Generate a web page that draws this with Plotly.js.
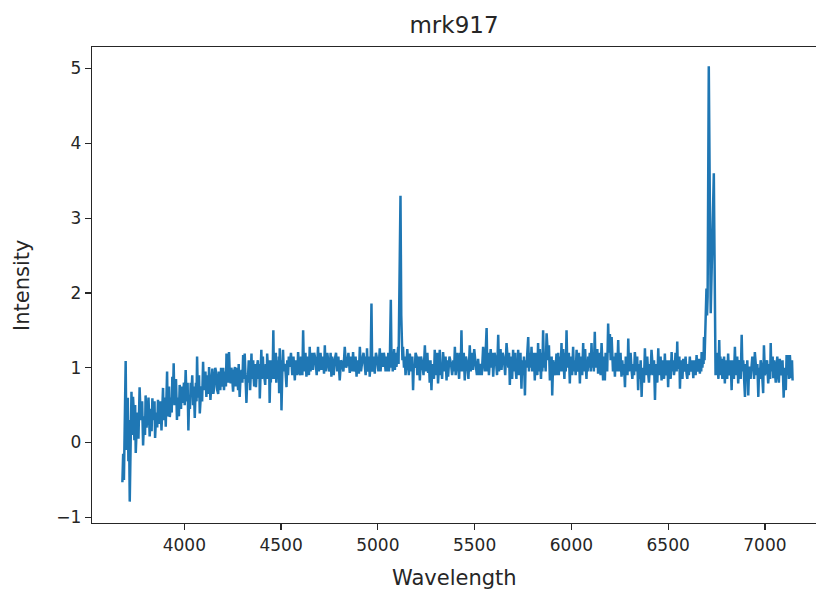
<!DOCTYPE html>
<html>
<head>
<meta charset="utf-8">
<script src="https://cdn.plot.ly/plotly-3.0.1.min.js"></script>
<style>
html,body{margin:0;padding:0;overflow:hidden;background:#fff;}
#chart{width:816px;height:592px;}
</style>
</head>
<body>
<div id="chart"></div>
<script>
const chartTitle = "mrk917";
const xLabel = "Wavelength";
const yLabel = "Intensity";
const xTicks = [4000, 4500, 5000, 5500, 6000, 6500, 7000];
const yTicks = [-1, 0, 1, 2, 3, 4, 5];

const wavelength = [
3680,3684,3688,3692,3697,3701,3704,3708,3711,3714,
3718,3722,3727,3731,3735,3738,3742,3746,3749,3754,
3758,3763,3769,3773,3778,3782,3787,3791,3794,3797,
3800,3805,3810,3815,3821,3824,3828,3831,3835,3838,
3842,3846,3849,3853,3857,3860,3864,3868,3872,3877,
3882,3886,3890,3893,3897,3900,3904,3907,3911,3914,
3918,3921,3925,3928,3932,3935,3938,3941,3945,3949,
3953,3957,3962,3965,3969,3972,3976,3979,3983,3986,
3990,3994,3998,4002,4007,4010,4014,4017,4021,4025,
4029,4033,4037,4041,4045,4049,4054,4057,4060,4063,
4066,4070,4073,4076,4080,4084,4088,4092,4097,4101,
4105,4109,4114,4117,4121,4124,4128,4131,4135,4140,
4145,4150,4155,4160,4165,4170,4175,4179,4183,4186,
4190,4194,4198,4201,4205,4208,4212,4215,4218,4221,
4225,4228,4231,4235,4240,4243,4246,4249,4252,4257,
4262,4265,4268,4271,4275,4278,4281,4283,4286,4291,
4296,4300,4304,4306,4308,4310,4312,4316,4321,4325,
4330,4333,4335,4338,4340,4344,4347,4350,4353,4356,
4358,4361,4365,4368,4370,4375,4380,4383,4385,4388,
4390,4394,4398,4401,4403,4406,4408,4413,4418,4421,
4423,4426,4428,4432,4435,4438,4441,4444,4447,4450,
4452,4456,4460,4463,4465,4468,4470,4473,4475,4478,
4480,4483,4485,4488,4490,4493,4496,4499,4502,4506,
4510,4514,4518,4523,4528,4532,4536,4540,4545,4551,
4558,4564,4571,4575,4580,4584,4588,4594,4600,4603,
4606,4610,4614,4618,4622,4626,4631,4635,4640,4644,
4648,4652,4656,4660,4665,4671,4678,4684,4691,4695,
4700,4704,4709,4713,4718,4722,4726,4730,4735,4739,
4743,4747,4752,4756,4760,4764,4768,4772,4777,4784,
4790,4796,4803,4810,4816,4822,4829,4836,4842,4848,
4855,4860,4864,4868,4872,4877,4881,4885,4890,4894,
4898,4902,4907,4913,4920,4926,4933,4937,4940,4942,
4944,4948,4952,4955,4958,4963,4967,4971,4976,4980,
4984,4990,4997,5003,5010,5014,5018,5022,5027,5031,
5036,5040,5045,5048,5051,5054,5057,5062,5067,5071,
5074,5077,5080,5084,5088,5092,5096,5100,5105,5107,
5109,5112,5117,5121,5124,5127,5130,5135,5139,5143,
5148,5152,5156,5160,5165,5170,5174,5178,5182,5186,
5191,5195,5200,5204,5208,5212,5217,5223,5230,5236,
5243,5248,5252,5256,5260,5264,5268,5272,5277,5281,
5286,5290,5294,5298,5302,5306,5311,5315,5320,5324,
5328,5332,5337,5342,5346,5350,5355,5359,5363,5370,
5378,5384,5390,5394,5398,5402,5406,5410,5415,5420,
5424,5428,5432,5436,5440,5444,5449,5455,5462,5468,
5475,5480,5484,5488,5492,5498,5505,5512,5518,5524,
5530,5537,5544,5548,5553,5557,5562,5566,5570,5574,
5579,5583,5588,5592,5596,5603,5610,5616,5622,5626,
5630,5634,5639,5645,5652,5658,5665,5670,5674,5678,
5682,5686,5690,5694,5699,5702,5706,5710,5713,5716,
5718,5722,5725,5729,5733,5737,5742,5746,5751,5755,
5760,5764,5768,5772,5777,5781,5785,5790,5794,5798,
5802,5806,5811,5815,5820,5824,5828,5831,5834,5837,
5840,5843,5847,5850,5854,5858,5863,5867,5872,5876,
5880,5884,5889,5892,5895,5898,5901,5906,5912,5917,
5923,5926,5929,5932,5935,5938,5942,5945,5949,5952,
5955,5958,5961,5964,5968,5971,5975,5979,5983,5987,
5992,5996,6000,6004,6009,6013,6018,6022,6027,6031,
6035,6039,6044,6048,6052,6056,6061,6064,6068,6071,
6075,6078,6081,6084,6087,6091,6095,6100,6104,6108,
6112,6116,6121,6125,6130,6134,6138,6142,6147,6151,
6156,6160,6164,6168,6173,6177,6181,6185,6190,6194,
6199,6203,6208,6211,6215,6220,6225,6229,6233,6237,
6242,6246,6250,6254,6259,6263,6268,6272,6277,6281,
6285,6290,6294,6298,6302,6306,6311,6315,6320,6324,
6328,6332,6336,6340,6345,6349,6354,6358,6363,6367,
6371,6375,6380,6384,6388,6392,6397,6401,6405,6409,
6414,6418,6423,6427,6432,6436,6440,6444,6449,6453,
6457,6461,6466,6470,6475,6479,6483,6487,6492,6496,
6500,6504,6509,6513,6518,6522,6526,6530,6535,6538,
6541,6544,6547,6550,6554,6558,6561,6565,6570,6574,
6578,6582,6586,6590,6595,6599,6603,6607,6612,6616,
6621,6625,6630,6634,6638,6642,6647,6651,6655,6659,
6664,6667,6669,6671,6673,6677,6680,6683,6685,6688,
6690,6694,6698,6701,6704,6710,6720,6736,6745,6750,
6755,6760,6764,6767,6770,6773,6776,6780,6785,6789,
6793,6797,6801,6805,6810,6814,6819,6823,6828,6832,
6836,6840,6845,6849,6853,6857,6862,6866,6871,6875,
6880,6884,6888,6892,6897,6901,6905,6909,6914,6918,
6922,6926,6931,6935,6940,6944,6948,6952,6957,6961,
6966,6970,6974,6978,6983,6987,6991,6993,6995,7000,
7005,7011,7017,7020,7024,7027,7030,7033,7036,7040,
7043,7048,7052,7056,7060,7064,7068,7072,7077,7081,
7086,7091,7097,7101,7105,7108,7112,7116,7120,7124,
7129,7132,7136,7140,7143
];

const intensity = [
-0.53,-0.15,-0.50,0.20,1.09,-0.10,0.35,0.60,-0.25,0.30,
-0.79,0.20,0.68,0.10,0.61,0.45,0.03,0.50,-0.14,0.20,
0.40,0.05,0.74,0.45,0.30,0.55,-0.04,0.25,0.35,0.10,
0.63,0.20,0.35,0.60,0.08,0.30,0.45,0.15,0.59,0.40,
0.30,0.55,0.06,0.30,0.40,0.20,0.57,0.25,0.35,0.55,
0.16,0.40,0.73,0.30,0.45,0.60,0.21,0.50,0.95,0.35,
0.60,0.75,0.34,0.50,0.60,0.40,0.88,0.55,1.06,0.50,
0.65,0.85,0.30,0.60,0.55,0.35,0.77,0.60,0.45,0.75,
0.53,0.60,0.80,0.50,0.97,0.70,0.55,0.80,0.16,0.60,
0.45,0.80,0.66,0.90,0.50,0.75,0.33,0.60,0.80,0.55,
1.15,0.60,0.70,0.90,0.39,0.65,0.75,0.55,1.08,0.70,
0.85,0.95,0.61,0.90,0.80,0.65,1.01,0.80,0.57,0.80,
0.99,0.65,0.75,1.00,0.93,0.70,0.65,0.95,0.90,0.70,
1.00,0.75,0.80,1.00,0.70,0.85,0.95,0.75,1.19,0.80,
0.90,0.80,1.21,0.90,0.79,1.00,0.95,0.80,0.68,0.95,
1.01,0.75,0.80,1.00,0.85,0.70,1.05,0.90,0.61,0.90,
0.97,0.80,1.17,0.90,0.85,1.00,1.19,0.90,0.53,0.85,
0.93,1.10,0.80,1.00,0.70,0.95,1.19,0.85,0.95,1.10,
0.88,0.75,1.05,0.90,0.74,1.00,1.10,0.85,0.90,1.05,
0.59,0.90,1.24,0.85,0.95,1.15,1.01,0.85,0.77,1.05,
0.95,0.85,1.19,1.00,0.85,1.10,0.53,0.90,0.80,1.10,
0.95,0.85,1.50,0.85,1.00,1.15,0.97,1.20,0.80,0.95,
1.10,0.90,0.85,1.15,0.66,1.26,0.95,1.10,0.43,0.90,
1.24,0.95,1.05,0.95,0.74,1.10,0.90,1.15,1.01,1.20,
0.90,1.15,0.83,1.10,1.00,0.90,1.21,0.95,0.90,1.15,
1.00,0.90,1.50,0.95,1.05,1.20,0.88,1.15,1.05,0.90,
1.28,0.95,1.05,1.20,0.97,1.20,1.10,0.90,1.28,0.95,
1.05,1.20,0.97,1.15,1.10,0.92,1.30,0.95,1.05,1.20,
1.10,0.95,1.00,1.20,0.88,1.15,1.00,0.90,1.10,1.20,
0.95,1.15,0.83,1.10,1.05,0.95,1.28,1.00,1.05,1.20,
0.93,1.15,1.05,0.95,1.21,0.95,1.00,1.15,0.88,1.10,
1.05,0.92,1.28,0.95,1.10,1.20,1.01,0.90,1.15,1.00,
1.26,0.95,1.00,1.15,0.88,1.10,1.86,0.95,1.00,1.15,
0.92,1.20,1.10,0.95,1.26,0.95,1.10,1.20,1.01,1.20,
1.10,0.95,1.15,0.95,1.05,1.20,0.95,1.10,1.91,1.00,
1.15,0.95,1.10,1.25,0.97,1.20,1.01,1.15,1.28,1.05,
1.46,1.55,3.30,1.70,1.30,1.10,1.28,1.00,1.15,0.90,
1.06,1.25,1.10,0.90,1.19,1.00,0.95,1.15,0.70,1.05,
1.00,1.20,1.15,0.90,1.00,1.15,0.83,1.15,1.05,0.90,
1.30,0.95,1.10,1.20,0.93,1.10,0.80,1.10,0.70,1.05,
1.00,0.85,1.24,0.90,1.00,1.20,0.79,1.05,1.24,0.90,
1.05,0.85,1.21,1.05,0.95,1.15,0.83,1.10,0.88,1.15,
1.05,0.90,1.10,0.95,1.28,0.90,1.05,1.20,1.01,0.85,
1.20,0.95,1.50,0.95,1.10,1.20,0.83,1.15,1.05,0.85,
1.30,0.95,1.10,1.20,0.97,1.25,1.05,0.90,1.12,0.90,
1.05,0.90,1.28,1.10,0.95,1.20,1.53,0.95,1.20,0.90,
1.06,1.25,1.00,1.20,0.88,1.20,1.10,0.90,1.44,0.95,
1.10,1.25,0.97,1.20,1.10,0.90,1.33,1.10,1.00,1.20,
0.77,1.15,1.00,0.85,1.24,0.95,1.10,1.20,0.95,0.85,
1.10,0.90,1.24,0.90,1.00,1.20,0.72,1.10,0.90,1.15,
0.63,1.10,1.00,1.20,1.41,0.95,1.20,1.00,1.28,0.95,
1.05,1.20,0.83,1.20,1.05,0.90,1.33,0.95,1.15,1.25,
1.00,0.85,1.20,0.95,1.50,1.00,1.20,0.95,1.46,1.20,
1.10,1.30,0.83,1.10,0.90,1.15,0.63,1.10,1.00,0.90,
1.19,0.90,1.05,1.20,0.90,1.15,1.10,0.95,1.33,0.95,
1.15,1.25,1.00,0.85,1.20,0.95,1.50,1.00,1.10,1.20,
0.79,1.15,1.00,0.90,1.28,0.95,1.10,0.90,1.24,0.95,
1.00,1.20,0.79,1.15,1.05,0.90,1.33,0.95,1.15,1.25,
1.00,0.85,1.10,0.95,1.15,1.00,1.20,0.95,1.33,1.00,
1.15,0.95,1.48,1.00,1.15,1.25,0.92,1.20,1.10,0.90,
1.33,1.00,0.83,1.15,0.83,1.20,1.10,0.95,1.59,1.20,
1.45,1.10,1.41,1.10,0.95,1.15,0.88,1.20,1.10,0.95,
1.37,0.95,1.10,1.20,0.88,1.10,0.90,1.05,0.74,1.15,
1.00,0.90,1.39,0.95,1.10,1.20,0.97,0.85,1.05,0.90,
1.21,1.05,0.95,1.15,0.70,1.05,0.85,1.10,0.61,1.00,
0.95,0.80,1.26,0.90,1.05,1.15,0.92,0.80,1.05,0.90,
1.24,1.00,0.90,1.10,0.57,1.05,0.95,0.80,1.26,0.90,
1.00,1.15,0.83,1.10,1.00,0.85,1.19,0.90,0.95,1.10,
0.74,1.10,1.00,0.85,1.21,0.95,1.10,0.90,1.01,1.20,
1.15,0.95,1.35,1.00,1.00,1.15,0.72,1.10,0.95,0.85,
1.12,0.95,1.00,1.15,0.92,0.85,1.05,0.90,1.15,0.95,
1.00,1.10,0.86,1.10,1.00,0.90,1.17,0.95,1.00,1.12,
0.92,1.10,1.05,0.95,1.21,1.00,1.15,1.05,1.41,1.10,
1.35,1.50,2.06,1.70,1.95,5.03,1.73,3.60,0.90,1.20,
1.00,0.85,1.37,1.00,1.15,0.90,1.12,0.85,0.95,1.15,
0.79,1.10,1.00,0.85,1.19,0.90,0.95,1.10,0.70,1.10,
1.00,0.85,1.28,0.90,1.00,1.15,0.79,1.05,1.10,0.85,
1.44,0.95,1.10,0.90,0.61,1.05,0.90,1.10,0.63,1.00,
1.00,0.85,0.97,1.15,1.10,0.85,1.21,1.00,0.90,1.05,
0.61,1.00,0.85,1.10,1.01,0.85,0.66,1.00,1.30,0.90,
1.00,1.10,0.79,1.00,1.05,0.85,1.33,0.95,1.05,1.15,
0.86,1.10,0.95,0.80,1.01,1.15,0.90,0.80,1.12,0.90,
0.95,1.10,0.60,1.00,0.90,0.70,1.17,0.90,1.17,0.85,
1.17,0.95,0.86,1.10,0.83
];

const trace = {
  x: wavelength,
  y: intensity,
  type: 'scatter',
  mode: 'lines',
  line: {color: '#1f77b4', width: 2.5},
  hoverinfo: 'skip'
};

const fontFam = 'DejaVu Sans, sans-serif';
const textColor = '#262626';
const layout = {
  width: 816,
  height: 592,
  margin: {l: 92, r: 0, t: 47, b: 69, pad: 0},
  paper_bgcolor: '#ffffff',
  plot_bgcolor: '#ffffff',
  showlegend: false,
  font: {family: fontFam, color: textColor, size: 17},
  title: {
    text: chartTitle,
    font: {family: fontFam, size: 23, color: textColor},
    x: 0.5, xref: 'paper', xanchor: 'center',
    y: 1 - 25/592, yref: 'container', yanchor: 'middle'
  },
  xaxis: {
    range: [3523, 7264],
    tickvals: xTicks,
    ticktext: xTicks.map(String),
    ticks: 'outside', ticklen: 6, tickwidth: 1.2, tickcolor: textColor,
    showline: true, linecolor: textColor, linewidth: 1.3, mirror: true,
    showgrid: false, zeroline: false,
    tickfont: {family: fontFam, size: 17, color: textColor}
  },
  yaxis: {
    range: [-1.076, 5.288],
    tickvals: yTicks,
    ticktext: yTicks.map(v => v < 0 ? '\u2212' + Math.abs(v) : String(v)),
    ticks: 'outside', ticklen: 6, tickwidth: 1.2, tickcolor: textColor,
    showline: true, linecolor: textColor, linewidth: 1.3, mirror: false,
    showgrid: false, zeroline: false,
    tickfont: {family: fontFam, size: 17, color: textColor}
  },
  annotations: [
    {text: xLabel, xref: 'paper', yref: 'paper', x: 0.5, y: -0.1155,
     xanchor: 'center', yanchor: 'middle', showarrow: false,
     font: {family: fontFam, size: 21, color: textColor}},
    {text: yLabel, xref: 'paper', yref: 'paper', x: -0.0967, y: 0.5,
     xanchor: 'center', yanchor: 'middle', textangle: -90, showarrow: false,
     font: {family: fontFam, size: 21, color: textColor}}
  ]
};

Plotly.newPlot('chart', [trace], layout, {displayModeBar: false, staticPlot: true});
</script>
</body>
</html>
